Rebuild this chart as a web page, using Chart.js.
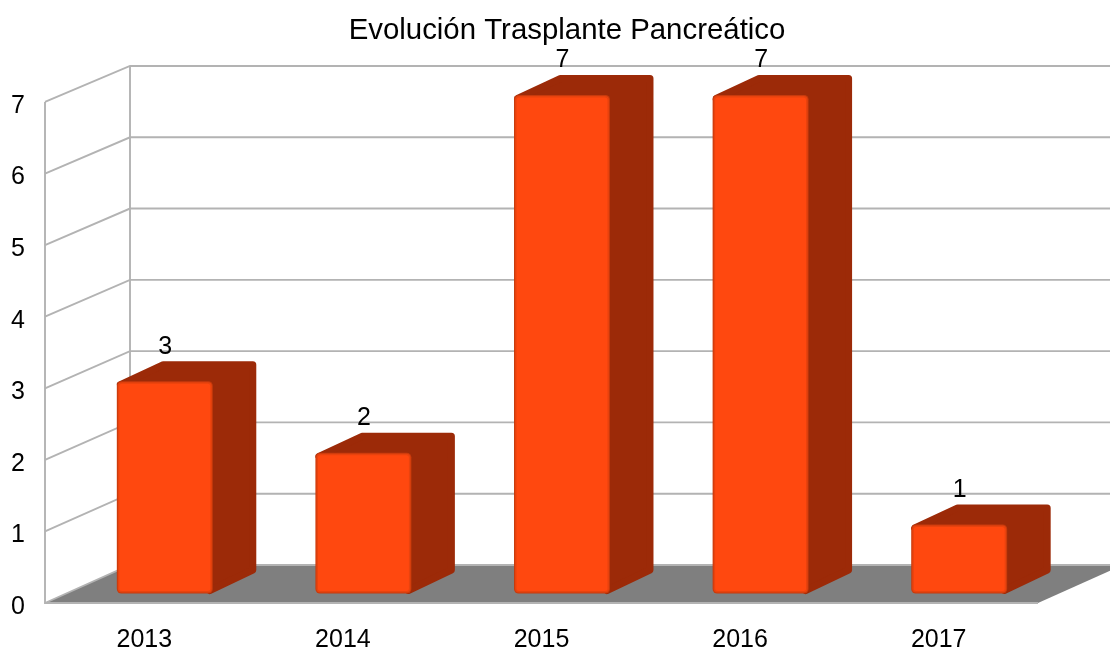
<!DOCTYPE html>
<html><head><meta charset="utf-8">
<style>html,body{margin:0;padding:0;background:#fff}#w{width:1110px;height:650px}canvas{display:block}</style>
<script src="https://cdn.jsdelivr.net/npm/chart.js@4"></script></head>
<body><div id="w"><canvas id="c" width="1110" height="650"></canvas></div>
<script>
const categories = ['2013','2014','2015','2016','2017'];
const transplantes = [3,2,7,7,1];
const chartTitle = 'Evolución Trasplante Pancreático';
const yMax = 7;

const FONT = '"Liberation Sans", Arial, sans-serif';
const WALL = {dx:85, dy:-38, k:499/501};
const GRID = '#b3b3b3';

function rr(ctx,x,y,w,h,r){ctx.beginPath();ctx.roundRect(x,y,w,h,r);}

const walls = {
  id:'walls',
  beforeDraw(chart){
    const t = chart.titleBlock;
    if(t && !t._moved){t.left += 48; t.right += 48; t._moved = true;}
  },
  beforeDatasetsDraw(chart){
    const {ctx,chartArea:a,scales:{y}} = chart;
    const r = a.right, l = a.left, b = a.bottom;
    const back = py => b + WALL.dy - (b-py)*WALL.k;
    ctx.save();
    ctx.fillStyle='#7f7f7f';
    ctx.beginPath();ctx.moveTo(l,b);ctx.lineTo(l+WALL.dx,b+WALL.dy);ctx.lineTo(r+WALL.dx,b+WALL.dy);ctx.lineTo(r,b);ctx.closePath();ctx.fill();
    ctx.strokeStyle=GRID;ctx.lineWidth=1.9;
    y.ticks.forEach(t=>{
      const py=y.getPixelForValue(t.value);
      ctx.beginPath();ctx.moveTo(l,py);ctx.lineTo(l+WALL.dx,back(py));ctx.lineTo(r+WALL.dx,back(py));ctx.stroke();
    });
    ctx.beginPath();ctx.moveTo(l,a.top);ctx.lineTo(l,b);ctx.lineTo(r,b);ctx.stroke();
    ctx.beginPath();ctx.moveTo(l+WALL.dx,back(a.top));ctx.lineTo(l+WALL.dx,b+WALL.dy);ctx.stroke();
    ctx.restore();
  }
};

const bars3d = {
  id:'bars3d',
  beforeDatasetDraw(chart,args){
    const {ctx} = chart;
    const D={dx:43,dy:-20};
    args.meta.data.forEach((el,i)=>{
      const p = el.getProps(['x','y','base','width'],true);
      const w=p.width, x0=p.x+20.5-w/2, x1=x0+w;
      const top=p.y-7, bot=p.base-9.5;
      ctx.save();
      ctx.lineJoin='round';ctx.lineWidth=7;
      ctx.strokeStyle='#9c2a08';ctx.fillStyle='#9c2a08';
      ctx.beginPath();
      ctx.moveTo(x0+3.5,top+3.5);ctx.lineTo(x0+D.dx+3.5,top+D.dy+3.5);ctx.lineTo(x1+D.dx-3,top+D.dy+3.5);
      ctx.lineTo(x1+D.dx-3,bot+D.dy-3.5);ctx.lineTo(x1-3,bot-3);ctx.closePath();
      ctx.fill();ctx.stroke();
      rr(ctx,x0,top,w,bot-top,4.5);ctx.fillStyle='#c83a0c';ctx.fill();
      rr(ctx,x0+1,top+1,w-2,bot-top-2,4);ctx.fillStyle='#e8430e';ctx.fill();
      rr(ctx,x0+2.5,top+2.5,w-5,bot-top-5,2.5);ctx.fillStyle='#ff480f';ctx.fill();
      ctx.fillStyle='#000';ctx.font='25px '+FONT;ctx.textAlign='center';ctx.textBaseline='middle';
      ctx.fillText(String(transplantes[i]),x0+w/2+0.5,top-34.5);
      ctx.restore();
    });
    return false;
  }
};

new Chart(document.getElementById('c'),{
  type:'bar',
  data:{labels:categories,datasets:[{label:chartTitle,data:transplantes,backgroundColor:'#ff480f',barPercentage:0.8,categoryPercentage:0.604}]},
  options:{
    responsive:false,animation:false,
    layout:{padding:{top:0,right:72,left:0,bottom:0}},
    plugins:{
      legend:{display:false},tooltip:{enabled:false},
      title:{display:true,text:chartTitle,color:'#000',font:{family:FONT,size:29.4,weight:'normal'},padding:{top:13.4,bottom:53.3},position:'top'}
    },
    scales:{
      x:{grid:{display:false},border:{display:false},
         ticks:{color:'#000',font:{family:FONT,size:25},padding:14.5,maxRotation:0},
         afterFit(s){s.height=47;}},
      y:{min:0,max:yMax,grid:{display:false},border:{display:false},
         ticks:{stepSize:1,color:'#000',font:{family:FONT,size:25},padding:12,labelOffset:4},
         afterFit(s){s.width=45;}}
    }
  },
  plugins:[walls,bars3d]
});
</script></body></html>
